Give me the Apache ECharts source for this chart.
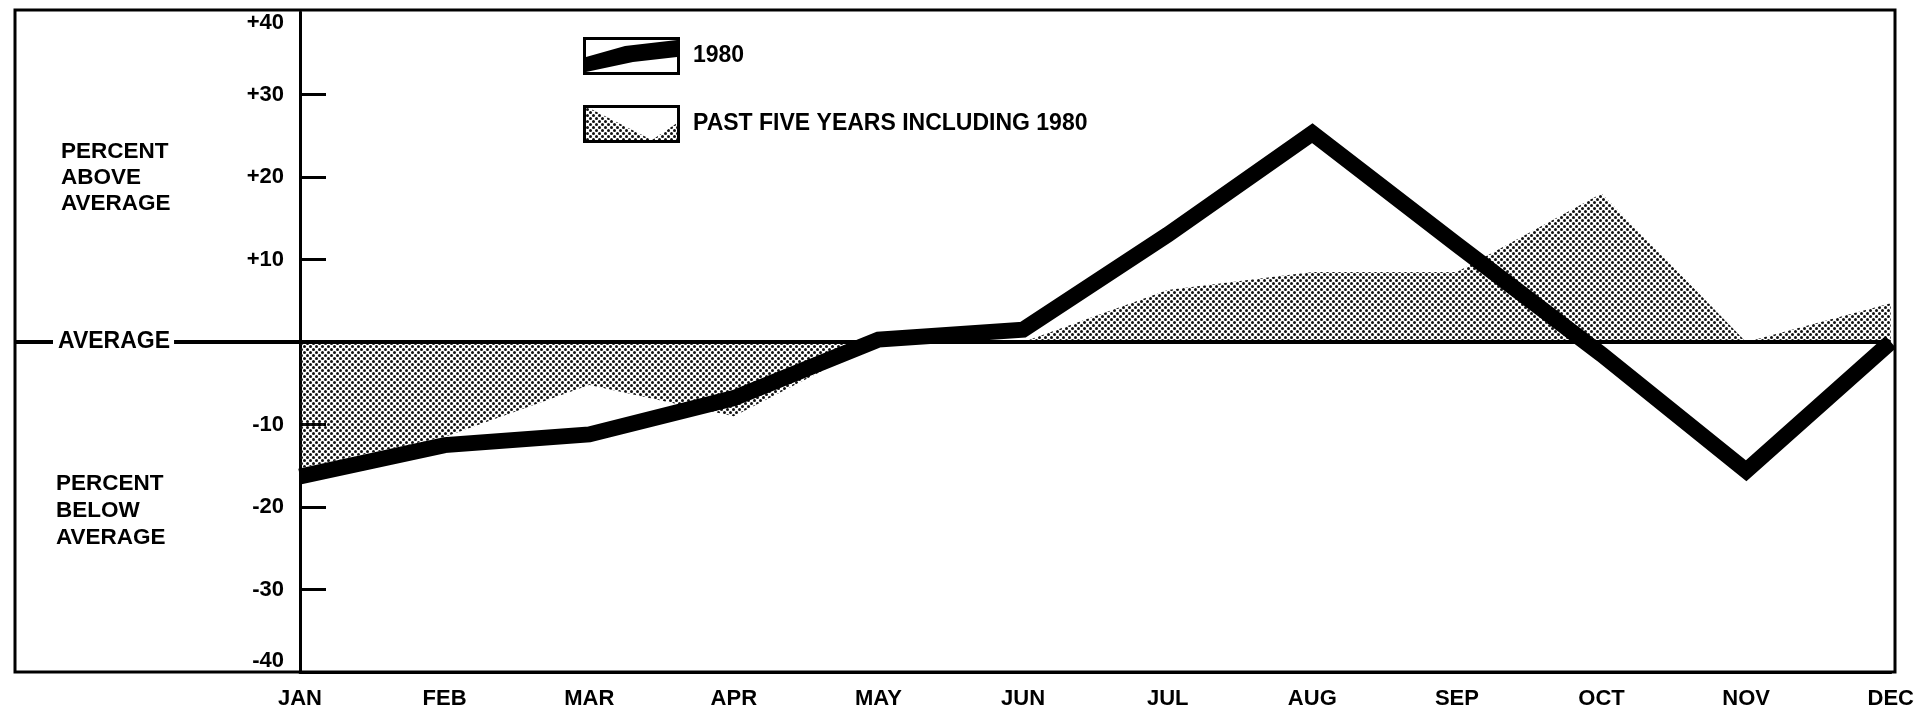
<!DOCTYPE html>
<html>
<head>
<meta charset="utf-8">
<title>Percent above / below average</title>
<script src="https://cdn.jsdelivr.net/npm/echarts@6/dist/echarts.min.js"></script>
<style>
  html, body { margin: 0; padding: 0; background: #fff; }
  #chart { width: 1917px; height: 716px; }
</style>
</head>
<body>
<div id="chart"></div>
<script>
// values (percent above / below average)
const months = ['JAN', 'FEB', 'MAR', 'APR', 'MAY', 'JUN', 'JUL', 'AUG', 'SEP', 'OCT', 'NOV', 'DEC']
const yTickLabels = ['-40', '-30', '-20', '-10', '', '+10', '+20', '+30', '+40']
const yTickMarks = [-30, -20, -10, 10, 20, 30]
const year1980 = [-16.3, -12.5, -11.2, -6.8, 0.3, 1.5, 13, 25.3, 11.8, -1.5, -15.6, 0]
const pastFiveYears = [-15.3, -11.5, -5.2, -9, 0, 0, 6.3, 8.5, 8.5, 18, 0, 4.7]

const FONT = '"Liberation Sans", Arial, sans-serif'

// halftone dots for the five-year area
const makeDots = () => {
  const c = document.createElement('canvas')
  c.width = 6
  c.height = 6
  const ctx = c.getContext('2d')
  ctx.fillStyle = '#111'
  ;[[1.5, 1.5], [4.5, 4.5]].forEach(([x, y]) => {
    ctx.beginPath()
    ctx.arc(x, y, 1.5, 0, Math.PI * 2)
    ctx.fill()
  })
  return c
}
const dots = { image: makeDots(), repeat: 'repeat' }

// legend miniatures, drawn in a 97x38 box
const lineIcon = 'path://M0 0L97 0L97 38L0 38Z M3 3L3 35L94 35L94 3Z M3 20L42 9L94 3L94 20L50 25L3 35Z'
const areaIcon = 'path://M0 0L69 35L97 16L97 38L0 38Z'

const chart = echarts.init(document.getElementById('chart'))

const options = {
  animation: false,
  backgroundColor: '#fff',
  grid: { left: 300, right: 22, top: 12, bottom: 44 },
  legend: {
    left: 583,
    top: 37,
    orient: 'vertical',
    padding: 0,
    itemWidth: 97,
    itemHeight: 38,
    itemGap: 30,
    selectedMode: false,
    textStyle: { fontSize: 23, fontWeight: 'bold', color: '#000', fontFamily: FONT, padding: [0, 0, 0, 8] },
    data: [
      { name: '1980', icon: lineIcon, itemStyle: { color: '#000', borderWidth: 0 } },
      { name: 'PAST FIVE YEARS INCLUDING 1980', icon: areaIcon, itemStyle: { color: dots, borderWidth: 0 } }
    ]
  },
  xAxis: {
    type: 'category',
    data: months,
    boundaryGap: false,
    axisLine: { show: true, onZero: false, lineStyle: { color: '#000', width: 3 } },
    axisTick: { show: false },
    axisLabel: { margin: 16, color: '#000', fontSize: 22, fontWeight: 'bold', fontFamily: FONT },
    splitLine: { show: false }
  },
  yAxis: {
    type: 'value',
    min: -40,
    max: 40,
    interval: 10,
    axisLine: { show: true, lineStyle: { color: '#000', width: 3 } },
    axisTick: { show: true, inside: true, length: 26, customValues: yTickMarks, lineStyle: { color: '#000', width: 3 } },
    splitLine: { show: false },
    axisLabel: {
      margin: 16,
      color: '#000',
      fontSize: 22,
      fontWeight: 'bold',
      fontFamily: FONT,
      verticalAlignMaxLabel: 'top',
      verticalAlignMinLabel: 'bottom',
      formatter: v => yTickLabels[Math.round((v + 40) / 10)]
    }
  },
  series: [
    {
      name: 'PAST FIVE YEARS INCLUDING 1980',
      type: 'line',
      data: pastFiveYears,
      symbol: 'none',
      silent: true,
      z: 2,
      itemStyle: { color: dots },
      lineStyle: { width: 0 },
      areaStyle: { color: dots, opacity: 1, origin: 'auto' },
      markLine: {
        silent: true,
        symbol: ['none', 'none'],
        label: { show: false },
        lineStyle: { color: '#000', width: 4, type: 'solid' },
        data: [{ yAxis: 0 }]
      }
    },
    {
      name: '1980',
      type: 'line',
      data: year1980,
      symbol: 'none',
      silent: true,
      z: 3,
      itemStyle: { color: '#000' },
      lineStyle: { color: '#000', width: 16, join: 'miter', cap: 'butt' }
    }
  ]
}

chart.setOption(options)

// frame, "AVERAGE" line stub and side captions
const y0 = chart.convertToPixel({ yAxisIndex: 0 }, 0)
const textStyle = { fill: '#000', fontSize: 22.5, fontWeight: 'bold', fontFamily: FONT }
chart.setOption({
  graphic: [
    { type: 'rect', z: 50, silent: true, shape: { x: 15, y: 10, width: 1880, height: 662 }, style: { fill: 'none', stroke: '#000', lineWidth: 3 } },
    { type: 'line', z: 50, silent: true, shape: { x1: 15, y1: y0, x2: 300, y2: y0 }, style: { stroke: '#000', lineWidth: 4 } },
    { type: 'text', z: 60, silent: true, x: 53, y: y0, style: Object.assign({ text: 'AVERAGE', verticalAlign: 'middle', backgroundColor: '#fff', padding: [2, 4, 2, 5] }, textStyle, { fontSize: 23 }) },
    { type: 'text', z: 60, silent: true, x: 61, y: 139, style: Object.assign({ text: 'PERCENT\nABOVE\nAVERAGE', lineHeight: 26 }, textStyle) },
    { type: 'text', z: 60, silent: true, x: 56, y: 470, style: Object.assign({ text: 'PERCENT\nBELOW\nAVERAGE', lineHeight: 27 }, textStyle) },
    { type: 'rect', z: 60, silent: true, shape: { x: 584.5, y: 106.5, width: 94, height: 35 }, style: { fill: 'none', stroke: '#000', lineWidth: 3 } }
  ]
})
</script>
</body>
</html>
